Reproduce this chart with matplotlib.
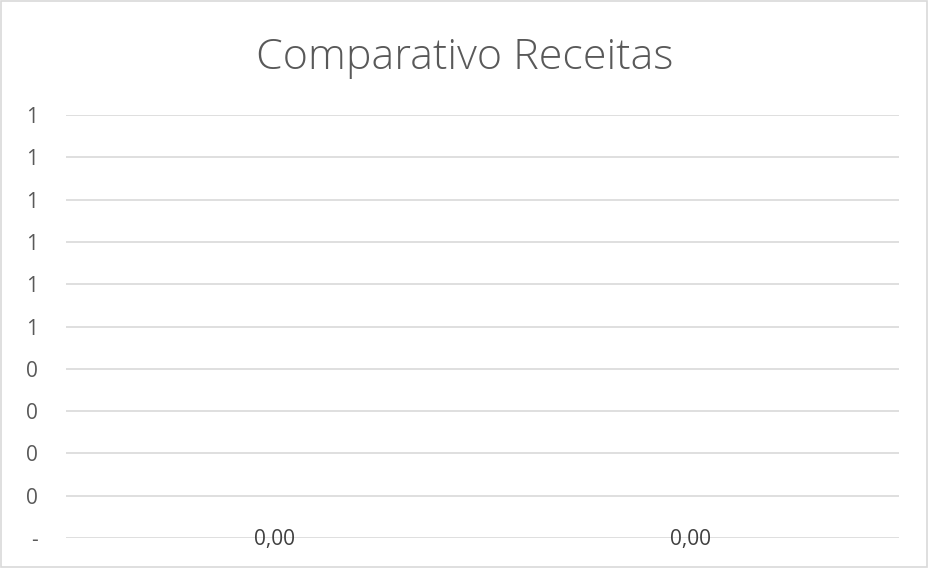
import numpy as np
import matplotlib.pyplot as plt
from matplotlib.ticker import FuncFormatter, MultipleLocator
from decimal import Decimal, ROUND_HALF_UP

categories = ['Receita 1', 'Receita 2']
values = [0.0, 0.0]

plt.rcParams['font.family'] = ['Open Sans', 'DejaVu Sans']

fig = plt.figure(figsize=(9.29, 5.68), dpi=100)
# light border round the whole chart, like the Excel chart area
fig.patches.append(plt.Rectangle((0.001, 0.001), 0.997, 0.997, transform=fig.transFigure,
                                 fill=False, edgecolor='#d9d9d9', linewidth=1.2))
ax = fig.add_axes([0.071, 0.0528, 0.8967, 0.7447])

ind = np.arange(len(categories))
bars = ax.bar(ind, values, width=0.6, color='#4472c4')

ax.set_xlim(-0.5, len(categories) - 0.5)
ax.set_ylim(0, 1)
ax.yaxis.set_major_locator(MultipleLocator(0.1))


def excel_fmt(v, pos):
    # Excel "#,##0" style: zero shown as a dash, round half up
    if abs(v) < 1e-9:
        return '-'
    return str(Decimal(str(round(v, 6))).quantize(Decimal('1'), rounding=ROUND_HALF_UP))


ax.yaxis.set_major_formatter(FuncFormatter(excel_fmt))
ax.grid(axis='y', color='#d9d9d9', linewidth=1.2)
ax.set_axisbelow(True)
ax.tick_params(axis='y', length=0, pad=20, labelsize=15, labelcolor='#595959')
ax.set_xticks([])
for s in ax.spines.values():
    s.set_visible(False)

labels = [('%.2f' % v).replace('.', ',') for v in values]
for x, v, lab in zip(ind, values, labels):
    ax.text(x, v - 0.004, lab, ha='center', va='center', fontsize=15, color='#404040')

fig.text(0.5, 0.8988, 'Comparativo Receitas', ha='center', va='center',
         fontsize=31, color='#595959', fontweight='light')

fig.savefig('out.png', dpi=100)
